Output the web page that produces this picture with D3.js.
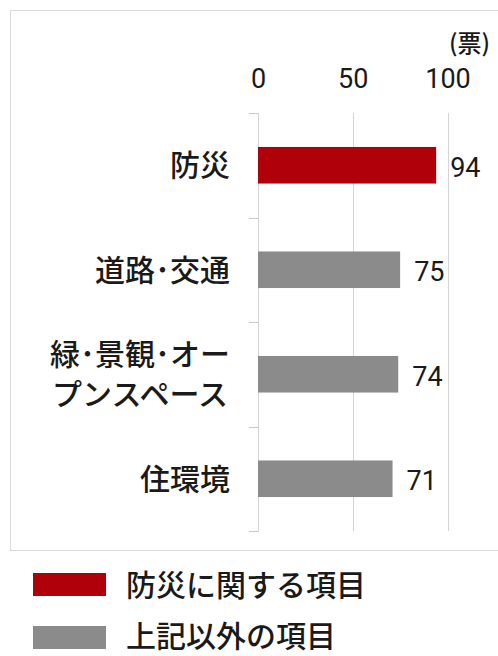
<!DOCTYPE html>
<html lang="ja">
<head>
<meta charset="utf-8">
<script src="https://cdn.jsdelivr.net/npm/d3@7"></script>
<style>
  html, body { margin: 0; padding: 0; background: #fff; }
  svg { display: block; }
  .jp { font-family: "Noto Sans CJK JP", "Noto Sans", sans-serif; font-weight: 500; fill: #1a1a1a; }
  .num { font-family: Roboto, "Liberation Sans", sans-serif; fill: #1a1a1a; }
</style>
</head>
<body>
<svg id="chart" width="498" height="656"></svg>
<script>
// Votes per topic (票)
const categories = ["防災", "道路･交通", "緑･景観･オー\nプンスペース", "住環境"];
const votes = [94, 75, 74, 71];
const groups = ["disaster", "other", "other", "other"];
const tickValues = [0, 50, 100];
const unitLabel = "(票)";
const legendLabels = ["防災に関する項目", "上記以外の項目"];
const legendGroups = ["disaster", "other"];

const colors = { disaster: "#b0000a", other: "#8b8b8b" };

const svg = d3.select("#chart");

// framed panel around the plot (open on the right edge)
svg.append("rect")
  .attr("x", 10.5).attr("y", 10.5)
  .attr("width", 520).attr("height", 540)
  .attr("fill", "none").attr("stroke", "#dadada").attr("stroke-width", 1);

const x = d3.scaleLinear().domain([0, 100]).range([258, 447.5]);
const y = d3.scaleBand().domain(categories).range([113, 531])
  .paddingInner(0.65).paddingOuter(0.325);

// vertical grid lines
svg.append("g").selectAll("line").data(tickValues).join("line")
  .attr("x1", d => Math.round(x(d)) + 0.5).attr("x2", d => Math.round(x(d)) + 0.5)
  .attr("y1", 113).attr("y2", 531)
  .attr("stroke", "#d4d4d4").attr("stroke-width", 1);

// category separators on the zero line
const bounds = d3.range(categories.length + 1).map(i => 113 + i * y.step());
svg.append("g").selectAll("line").data(bounds).join("line")
  .attr("x1", Math.round(x(0)) - 9).attr("x2", Math.round(x(0)) + 0.5)
  .attr("y1", d => Math.round(d) + 0.5).attr("y2", d => Math.round(d) + 0.5)
  .attr("stroke", "#c8c8c8").attr("stroke-width", 1);

// top value axis
const axis = svg.append("g")
  .attr("transform", "translate(0,88)")
  .call(d3.axisTop(x).tickValues(tickValues).tickSize(0).tickPadding(0).tickFormat(d3.format("d")));
axis.select(".domain").remove();
axis.selectAll("text")
  .attr("class", "num")
  .attr("font-size", 27)
  .attr("fill", "#1a1a1a");

svg.append("text").attr("class", "jp")
  .attr("x", 490).attr("y", 43).attr("dy", "0.36em")
  .attr("text-anchor", "end").attr("font-size", 24)
  .text(unitLabel);

// bars
svg.append("g").selectAll("rect").data(categories).join("rect")
  .attr("x", x(0))
  .attr("y", d => y(d))
  .attr("width", (d, i) => x(votes[i]) - x(0))
  .attr("height", y.bandwidth())
  .attr("fill", (d, i) => colors[groups[i]]);

// value labels
svg.append("g").selectAll("text").data(categories).join("text")
  .attr("class", "num")
  .attr("x", (d, i) => x(votes[i]) + 14)
  .attr("y", d => y(d) + y.bandwidth() / 2)
  .attr("dy", "0.42em")
  .attr("font-size", 27)
  .text((d, i) => votes[i]);

// category labels (multi-line labels are centred as a block, right-aligned to the axis)
const labelRight = 230;
const lineGap = 40;
categories.forEach(c => {
  const lines = c.split("\n");
  const cy = y(c) + y.bandwidth() / 2;
  const t = svg.append("text").attr("class", "jp").attr("font-size", 30);
  const spans = lines.map((ln, i) => t.append("tspan")
    .attr("y", cy + (i - (lines.length - 1) / 2) * lineGap)
    .attr("dy", "0.36em")
    .text(ln));
  if (lines.length === 1) {
    t.attr("text-anchor", "end");
    spans[0].attr("x", labelRight);
  } else {
    const w = d3.max(spans, s => s.node().getComputedTextLength());
    t.attr("text-anchor", "middle");
    spans.forEach(s => s.attr("x", labelRight - w / 2));
  }
});

// legend
const legend = svg.append("g");
legendLabels.forEach((lab, i) => {
  const top = 573 + i * 53;
  legend.append("rect")
    .attr("x", 33).attr("y", top).attr("width", 73).attr("height", 23)
    .attr("fill", colors[legendGroups[i]]);
  legend.append("text").attr("class", "jp")
    .attr("x", 126).attr("y", top + 12 - i * 2).attr("dy", "0.36em")
    .attr("font-size", 30)
    .text(lab);
});
</script>
</body>
</html>
